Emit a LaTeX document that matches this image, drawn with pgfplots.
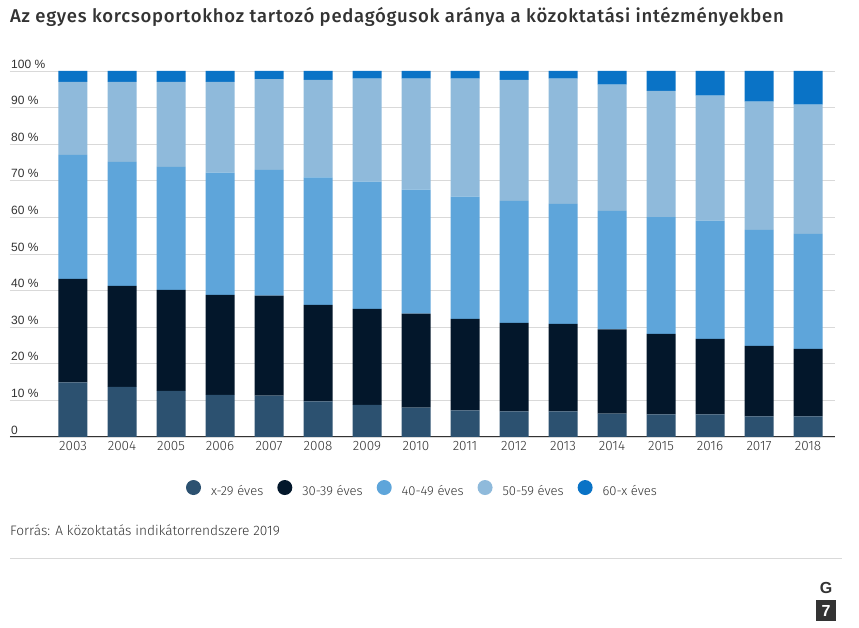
\documentclass[border=0pt]{standalone}
\usepackage{fontspec}
\usepackage{pgfplots}
\usepackage{pgfplotstable}
\pgfplotsset{compat=1.18}
\setmainfont{Fira Sans Light}
\newfontfamily\titlefont[LetterSpace=4]{Fira Sans Medium}
\newfontfamily\arialfont{Liberation Sans}
\newfontfamily\boldfont{Liberation Sans Bold}
\definecolor{c1}{HTML}{2C5170}
\definecolor{c2}{HTML}{03172B}
\definecolor{c3}{HTML}{5EA5DA}
\definecolor{c4}{HTML}{8FBADB}
\definecolor{c5}{HTML}{0A73C6}
\definecolor{txt}{HTML}{333333}
\definecolor{gridc}{HTML}{D9D9D9}

\pgfplotstableread{
x a b c d e
0 14.9 28.3 33.9 19.9 3.0
1 13.7 27.6 33.9 21.8 3.0
2 12.6 27.6 33.6 23.2 3.0
3 11.5 27.3 33.4 24.8 3.0
4 11.3 27.3 34.4 24.8 2.2
5 9.7 26.4 34.8 26.7 2.4
6 8.8 26.2 34.8 28.1 2.1
7 8.0 25.7 33.9 30.3 2.1
8 7.3 25.0 33.4 32.2 2.1
9 7.0 24.2 33.3 33.1 2.4
10 7.0 23.9 32.8 34.2 2.1
11 6.4 23.0 32.4 34.5 3.7
12 6.2 22.0 31.9 34.5 5.4
13 6.2 20.6 32.3 34.2 6.7
14 5.6 19.3 31.7 35.0 8.4
15 5.6 18.5 31.4 35.3 9.2
}\data

\pgfplotsset{circ legend/.style={legend image code/.code={\fill[##1] (7.5pt,4pt) circle (7.5pt);}}}

\begin{document}
\begin{tikzpicture}[x=1pt,y=1pt]
\path[use as bounding box] (0,0) rectangle (859,628);
\node[anchor=base west, inner sep=0pt, text=txt] at (10,605.3) {\titlefont\fontsize{18.5}{21}\selectfont Az egyes korcsoportokhoz tartozó pedagógusok aránya a közoktatási intézményekben};
\begin{axis}[
  at={(10pt,191pt)}, anchor=south west,
  scale only axis, width=825pt, height=366pt,
  xmin=-1.2857, xmax=15.551, ymin=0, ymax=100,
  ybar stacked, bar width=29pt,
  axis line style={draw=none},
  major tick length=0pt,
  xtick={0,...,15},
  xticklabels={2003,2004,2005,2006,2007,2008,2009,2010,2011,2012,2013,2014,2015,2016,2017,2018},
  xticklabel style={font=\fontsize{13.5}{15}\selectfont, text=txt, yshift=-1pt},
  ytick={0,10,...,100},
  yticklabels={0,10 \%,20 \%,30 \%,40 \%,50 \%,60 \%,70 \%,80 \%,90 \%,100 \%},
  yticklabel style={font=\arialfont\fontsize{12}{14}\selectfont, text=txt, anchor=south west, inner sep=0pt, yshift=2.5pt, xshift=1pt},
  /pgf/number format/assume math mode=true,
  ymajorgrids, grid style={draw=gridc, line width=0.8pt},
  legend columns=5,
  legend style={draw=none, fill=none, at={(0.5,-0.144)}, anchor=center,
    font=\fontsize{13}{15}\selectfont, text=txt,
    /tikz/every odd column/.append style={column sep=8pt},
    /tikz/every even column/.append style={column sep=12pt}},
]
\addplot[fill=c1, draw=none, circ legend] table[x=x,y=a]{\data};
\addplot[fill=c2, draw=none, circ legend] table[x=x,y=b]{\data};
\addplot[fill=c3, draw=none, circ legend] table[x=x,y=c]{\data};
\addplot[fill=c4, draw=none, circ legend] table[x=x,y=d]{\data};
\addplot[fill=c5, draw=none, circ legend] table[x=x,y=e]{\data};
\legend{x-29 éves,30-39 éves,40-49 éves,50-59 éves,60-x éves}
\draw[txt, line width=2pt] (axis cs:-1.2857,0) -- (axis cs:15.551,0);
\end{axis}
\node[anchor=west, inner sep=0pt, text=txt] at (10,98) {\fontsize{13.7}{15}\selectfont Forrás: A közoktatás indikátorrendszere 2019};
\draw[gridc, line width=1pt] (10,69) -- (842,69);
\node[inner sep=0pt, text=txt] at (826,40.5) {\boldfont\fontsize{16}{16}\selectfont G};
\fill[txt] (816,7) rectangle (836,28);
\node[inner sep=0pt, text=white] at (826,17.5) {\boldfont\fontsize{16}{16}\selectfont 7};
\end{tikzpicture}
\end{document}
